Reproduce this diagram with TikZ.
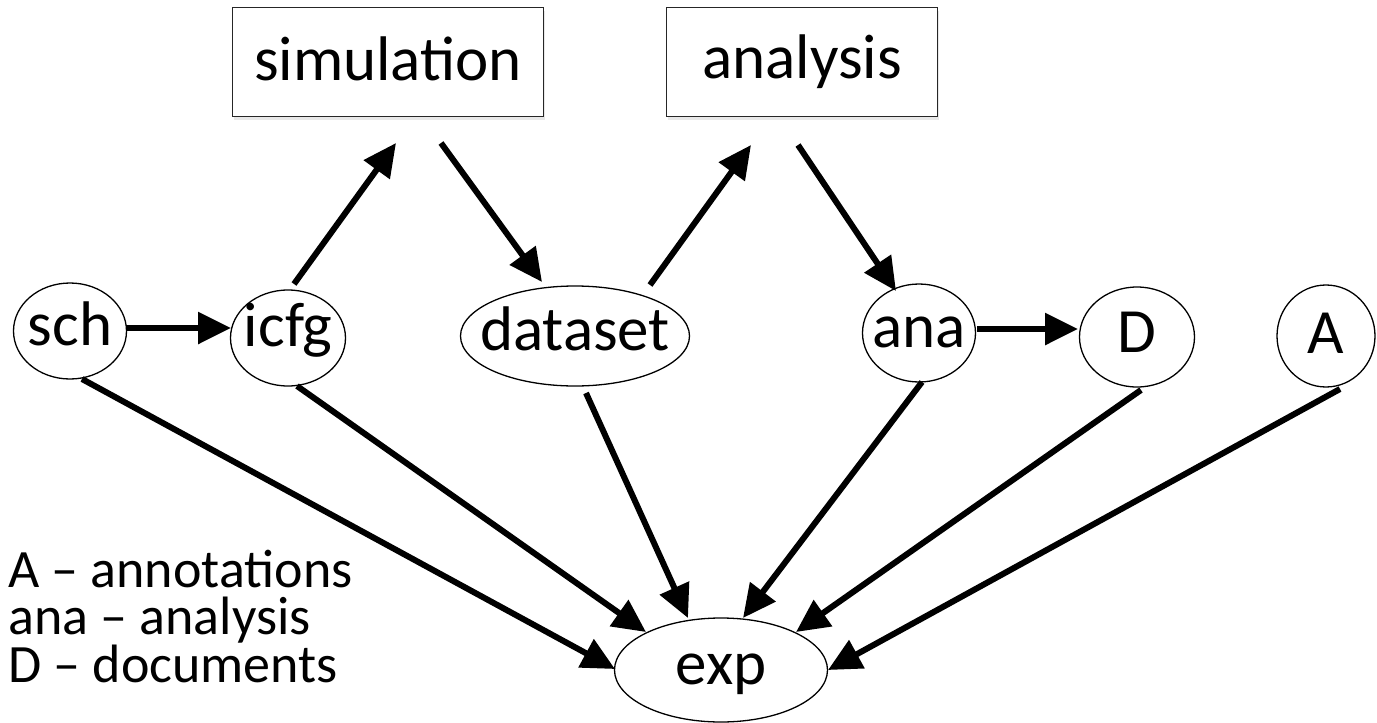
\documentclass[tikz,border=0pt]{standalone}
\usepackage{fontspec}
\setmainfont{Carlito}
\usetikzlibrary{arrows.meta,shapes.geometric,shadows}

% zero-width label so that the node size comes from minimum width/height only
\newcommand\lbl[1]{\makebox[0pt]{#1}}

\tikzset{
  proc/.style={draw=black!85, line width=1.3pt, fill=white, inner sep=0pt,
    drop shadow={opacity=0.18, shadow xshift=1.5pt, shadow yshift=-3pt},
    font=\fontsize{63}{70}\selectfont, text depth=0pt},
  item/.style={ellipse, draw=black, line width=1.3pt, fill=white, inner sep=0pt,
    font=\fontsize{63}{70}\selectfont, text depth=0pt, text height=28pt},
  % baseline sits half the text height below the node centre
  drop/.style={text height=#1},
  arr/.style={line width=6pt, -{Triangle[length=33pt,width=31pt]}},
  legend/.style={anchor=base west, inner sep=0pt, align=left,
    font={\fontsize{54}{47.5}\selectfont\lineskiplimit=-100pt}}
}

\begin{document}
\begin{tikzpicture}[x=1pt,y=-1pt]
\useasboundingbox (0,0) rectangle (1377,723);

% process boxes
\node[proc, drop=36pt, minimum width=311pt, minimum height=109pt] (sim) at (388,62) {\lbl{simulation}};
\node[proc, drop=32pt, minimum width=271pt, minimum height=109pt] (analysis) at (802,62) {\lbl{analysis}};

% data items
\node[item, minimum width=113pt, minimum height=96pt]  (sch)     at (70,331)   {\lbl{sch}};
\node[item, drop=16pt, minimum width=115pt, minimum height=96pt]  (icfg) at (288,338) {\lbl{icfg}};
\node[item, minimum width=229pt, minimum height=100pt] (dataset) at (575,336)  {\lbl{dataset}};
\node[item, minimum width=113pt, minimum height=98pt]  (ana)     at (919,333)  {\lbl{ana}};
\node[item, drop=30pt, minimum width=115pt, minimum height=100pt] (D) at (1137,337) {\lbl{D}};
\node[item, drop=34pt, minimum width=98pt,  minimum height=102pt] (A) at (1326,336) {\lbl{A}};
\node[item, minimum width=213pt, minimum height=104pt] (exp)     at (721,670)  {\lbl{exp}};

% horizontal links
\draw[arr] ([shift={(56,-3)}]sch.center) -- ([shift={(-57,-10)}]icfg.center);
\draw[arr] ([shift={(58,-4)}]ana.center) -- ([shift={(-59,-8)}]D.center);

% workflow through the processes
\draw[arr] ([shift={(6,-54)}]icfg.center)    -- ([shift={(8,81)}]sim.center);
\draw[arr] ([shift={(53,81)}]sim.center)     -- ([shift={(-33,-54)}]dataset.center);
\draw[arr] ([shift={(75,-51)}]dataset.center) -- ([shift={(-51,83)}]analysis.center);
\draw[arr] ([shift={(-4,83)}]analysis.center) -- ([shift={(-23,-42)}]ana.center);

% everything feeds the experiment
\draw[arr] ([shift={(12,48)}]sch.center)     -- ([shift={(-106,-1)}]exp.center);
\draw[arr] ([shift={(9,48)}]icfg.center)     -- ([shift={(-75,-38)}]exp.center);
\draw[arr] ([shift={(11,57)}]dataset.center) -- ([shift={(-33,-52)}]exp.center);
\draw[arr] ([shift={(3,49)}]ana.center)      -- ([shift={(22,-52)}]exp.center);
\draw[arr] ([shift={(4,53)}]D.center)        -- ([shift={(75,-38)}]exp.center);
\draw[arr] ([shift={(14,53)}]A.center)       -- ([shift={(107,0)}]exp.center);

% legend (base anchor is the baseline of its last line)
\node[legend] (key) at (8,682) {A – annotations\\ana – analysis\\D – documents};
\end{tikzpicture}
\end{document}
